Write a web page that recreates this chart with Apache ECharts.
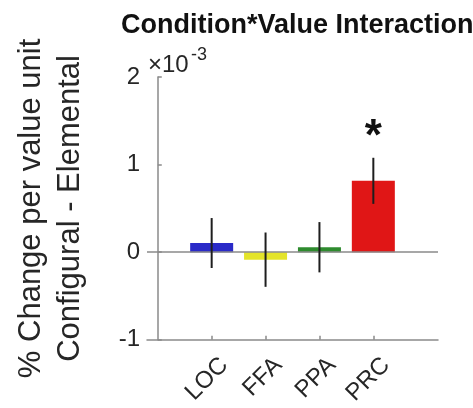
<!DOCTYPE html>
<html>
<head>
<meta charset="utf-8">
<script src="https://cdn.jsdelivr.net/npm/echarts@6/dist/echarts.min.js"></script>
<style>
html,body{margin:0;padding:0;background:#fff;}
#chart{width:473px;height:408px;}
</style>
</head>
<body>
<div id="chart"></div>
<script>
// ---- data (values in units of 1e-3) ----
var categories = ['LOC', 'FFA', 'PPA', 'PRC'];
var means = [0.105, -0.085, 0.057, 0.815];
var errors = [0.285, 0.31, 0.287, 0.263];
var barColors = ['#2a2ac8', '#e4e42a', '#2e8b2e', '#e01616'];
var significance = ['', '', '', '*'];
var yTickValues = [-1, 0, 1, 2];
var scaleExponent = '-3';
var titleText = 'Condition*Value Interaction';
var yLabelLines = ['% Change per value unit', 'Configural - Elemental'];

var FONT = 'Liberation Sans, Arial, Helvetica, sans-serif';
var catPos = categories.map(function (c, i) { return i + 1; });

var chart = echarts.init(document.getElementById('chart'), null, { renderer: 'canvas' });

var barData = means.map(function (v, i) {
  return { value: [catPos[i], v], itemStyle: { color: barColors[i] } };
});
var errData = means.map(function (v, i) {
  return [catPos[i], v - errors[i], v + errors[i], i];
});

var option = {
  backgroundColor: '#fff',
  animation: false,
  title: {
    text: titleText,
    left: 116,
    top: 7,
    textStyle: { fontFamily: FONT, fontWeight: 'bold', fontSize: 27, color: '#111' }
  },
  grid: { left: 147, right: 35, top: 77, bottom: 61.5, containLabel: false },
  xAxis: {
    type: 'value',
    min: -0.2,
    max: 5.2,
    splitLine: { show: false },
    axisLine: { onZero: false, lineStyle: { color: '#8a8a8a', width: 1.5 } },
    axisTick: { inside: true, length: 4, customValues: catPos, lineStyle: { color: '#8a8a8a', width: 1.5 } },
    axisLabel: {
      customValues: catPos,
      rotate: 45,
      align: 'right',
      verticalAlign: 'top',
      margin: 9,
      padding: [6, 0, 0, 0],
      fontFamily: FONT,
      fontSize: 24,
      color: '#262626',
      formatter: function (v) { return categories[Math.round(v) - 1] || ''; }
    }
  },
  yAxis: {
    type: 'value',
    min: yTickValues[0],
    max: yTickValues[yTickValues.length - 1],
    interval: 1,
    splitLine: { show: false },
    axisLine: { show: true, lineStyle: { color: '#8a8a8a', width: 1.5 } },
    axisTick: { show: true, inside: true, length: 4, lineStyle: { color: '#8a8a8a', width: 1.5 } },
    axisLabel: { margin: 7, fontFamily: FONT, fontSize: 24, color: '#262626' },
    name: yLabelLines.join('\n'),
    nameLocation: 'middle',
    nameRotate: 90,
    nameGap: 57,
    nameTextStyle: { fontFamily: FONT, fontSize: 31, lineHeight: 39, color: '#262626' }
  },
  graphic: [
    {
      type: 'group',
      children: [
        { type: 'text', left: 148, top: 53, style: { text: '×10', font: '24px ' + FONT, fill: '#262626' } },
        { type: 'text', left: 191, top: 46, style: { text: scaleExponent, font: '18px ' + FONT, fill: '#262626' } }
      ]
    }
  ],
  series: [
    {
      type: 'bar',
      data: barData,
      barWidth: 43,
      markLine: {
        silent: true,
        symbol: 'none',
        label: { show: false },
        lineStyle: { color: '#8a8a8a', width: 1.5, type: 'solid' },
        data: [{ yAxis: 0 }]
      }
    },
    {
      type: 'custom',
      data: errData,
      z: 10,
      renderItem: function (params, api) {
        var x = api.value(0);
        var lo = api.coord([x, api.value(1)]);
        var hi = api.coord([x, api.value(2)]);
        var idx = api.value(3);
        var children = [{
          type: 'line',
          shape: { x1: lo[0], y1: lo[1], x2: hi[0], y2: hi[1] },
          style: { stroke: '#1e1e1e', lineWidth: 2 }
        }];
        if (significance[idx]) {
          children.push({
            type: 'text',
            style: {
              text: significance[idx],
              x: hi[0],
              y: hi[1] + 2,
              textAlign: 'center',
              textVerticalAlign: 'bottom',
              font: 'bold 44px ' + FONT,
              fill: '#111'
            }
          });
        }
        return { type: 'group', children: children };
      }
    }
  ]
};
chart.setOption(option);
</script>
</body>
</html>
